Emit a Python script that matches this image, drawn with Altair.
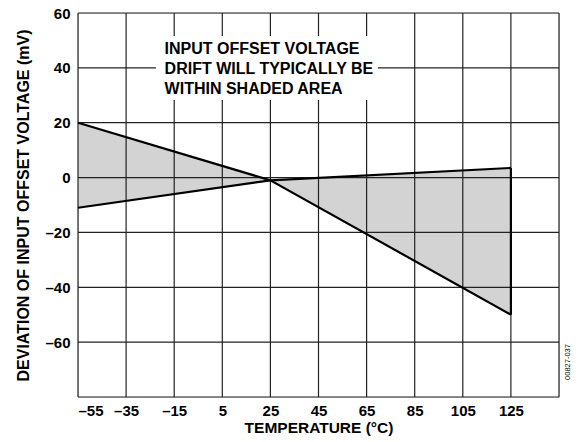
import altair as alt
import pandas as pd

# Data
temps = [-55, 25, 125]
upper = [20, -1, 3.5]
lower = [-11, -1, -50]

x_grid = [-55, -35, -15, 5, 25, 45, 65, 85, 105, 125, 145]
y_grid = [-80, -60, -40, -20, 0, 20, 40, 60]

note_lines = ["INPUT OFFSET VOLTAGE", "DRIFT WILL TYPICALLY BE", "WITHIN SHADED AREA"]
note_box_x = [-22.6, 69.7]
note_box_y = [28.3, 51.6]
note_pos = [-19, 46.9]

FONT = "Liberation Sans"

band = pd.DataFrame({"t": temps, "upper": upper, "lower": lower})
edge = pd.DataFrame({"t": [temps[-1]], "lo": [lower[-1]], "hi": [upper[-1]]})
box = pd.DataFrame({"x1": [note_box_x[0]], "x2": [note_box_x[1]],
                    "y1": [note_box_y[0]], "y2": [note_box_y[1]]})
note = pd.DataFrame({"x": [note_pos[0]], "y": [note_pos[1]], "txt": [note_lines]})
vgrid = pd.DataFrame({"g": x_grid})
hgrid = pd.DataFrame({"g": y_grid})

label_expr = ("datum.value >= 145 || datum.value <= -80 ? '' : "
              "(datum.value < 0 ? '\u2013' + abs(datum.value) : '' + datum.value)")

xscale = alt.Scale(domain=[-55, 145], nice=False, zero=False)
yscale = alt.Scale(domain=[-80, 60], nice=False, zero=False)

xaxis = alt.Axis(values=x_grid, labelExpr=label_expr, title="TEMPERATURE (°C)",
                 grid=False, ticks=False, domain=False, labelFont=FONT,
                 labelFontWeight="bold", labelFontSize=15, labelColor="black",
                 labelPadding=6, titleFont=FONT, titleFontWeight="bold",
                 titleFontSize=15.5, titleColor="black", titlePadding=2)
yaxis = alt.Axis(values=y_grid, labelExpr=label_expr,
                 title="DEVIATION OF INPUT OFFSET VOLTAGE  (mV)",
                 grid=False, ticks=False, domain=False, labelFont=FONT,
                 labelFontWeight="bold", labelFontSize=15, labelColor="black",
                 labelPadding=8, titleFont=FONT, titleFontWeight="bold",
                 titleFontSize=16, titleColor="black", titlePadding=13)

base = alt.Chart(band)

area = base.mark_area(color="#d3d3d3", opacity=1).encode(
    x=alt.X("t:Q", scale=xscale, axis=xaxis),
    y=alt.Y("upper:Q", scale=yscale, axis=yaxis),
    y2="lower:Q",
)
vrules = alt.Chart(vgrid).mark_rule(color="#222222", strokeWidth=1.2).encode(
    x=alt.X("g:Q", scale=xscale))
hrules = alt.Chart(hgrid).mark_rule(color="#222222", strokeWidth=1.2).encode(
    y=alt.Y("g:Q", scale=yscale))

line_up = base.mark_line(color="black", strokeWidth=2.2).encode(
    x=alt.X("t:Q", scale=xscale), y=alt.Y("upper:Q", scale=yscale))
line_lo = base.mark_line(color="black", strokeWidth=2.2).encode(
    x=alt.X("t:Q", scale=xscale), y=alt.Y("lower:Q", scale=yscale))
edge_rule = alt.Chart(edge).mark_rule(color="black", strokeWidth=2.2).encode(
    x=alt.X("t:Q", scale=xscale), y=alt.Y("lo:Q", scale=yscale), y2="hi:Q")

box_rect = alt.Chart(box).mark_rect(color="white", opacity=1).encode(
    x=alt.X("x1:Q", scale=xscale), x2="x2:Q",
    y=alt.Y("y1:Q", scale=yscale), y2="y2:Q")

note_text = alt.Chart(note).mark_text(
    align="left", baseline="middle", font=FONT, fontWeight="bold",
    fontSize=16, lineHeight=20, color="black"
).encode(x=alt.X("x:Q", scale=xscale), y=alt.Y("y:Q", scale=yscale), text="txt")

code_text = alt.Chart(pd.DataFrame({"c": ["00827-037"]})).mark_text(
    angle=270, font=FONT, fontSize=7.5, color="black", align="center", baseline="middle"
).encode(x=alt.value(490), y=alt.value(349), text="c:N")

chart = alt.layer(area, vrules, hrules, box_rect, note_text, line_up, line_lo,
                  edge_rule, code_text).properties(
    width=481, height=384,
    autosize=alt.AutoSizeParams(type="none"),
    padding={"left": 70, "top": 5, "right": 19, "bottom": 42},
).configure_view(stroke="black", strokeWidth=1.6).configure(background="white")

chart.save("out.html", embed_options={"renderer": "svg", "actions": False})
